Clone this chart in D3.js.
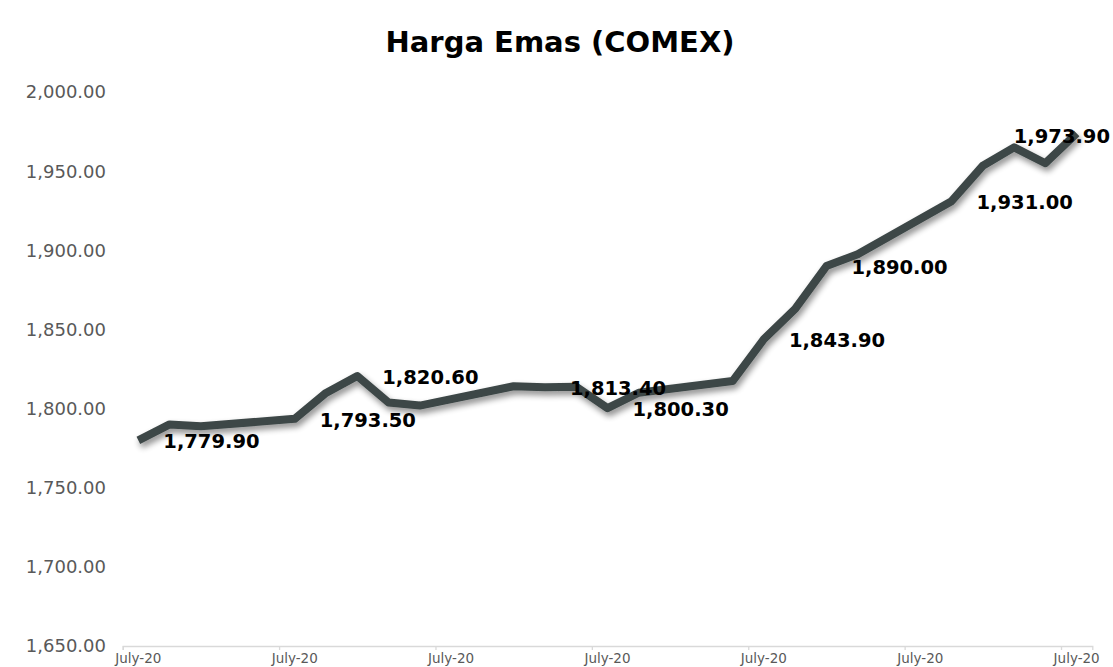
<!DOCTYPE html>
<html>
<head>
<meta charset="utf-8">
<script src="https://cdn.jsdelivr.net/npm/d3@7"></script>
<style>
  html, body { margin: 0; padding: 0; background: #fff; overflow: hidden; }
  svg { display: block; }
</style>
</head>
<body>
<svg id="chart" width="1113" height="667"></svg>
<script>
// ---- data (July 2020, trading days) ----
const days   = [1, 2, 3, 6, 7, 8, 9, 10, 13, 14, 15, 16, 17, 20, 21, 22, 23, 24, 27, 28, 29, 30, 31];
const prices = [1779.9, 1790.0, 1788.8, 1793.5, 1809.9, 1820.6, 1803.8, 1801.9, 1814.1, 1813.4, 1813.8,
                1800.3, 1810.0, 1817.4, 1843.9, 1863.0, 1890.0, 1897.5, 1931.0, 1953.4, 1965.0, 1955.0, 1973.9];
const labeledDays = [1, 6, 8, 14, 16, 21, 23, 27, 31];
const yTicks = [1650, 1700, 1750, 1800, 1850, 1900, 1950, 2000];
const xLabelDays = [1, 6, 11, 16, 21, 26, 31];
const xLabelText = "July-20";
const title = "Harga Emas (COMEX)";

const svg = d3.select("#chart");
const FONT = "'Century Gothic', 'DejaVu Sans', sans-serif";

const x = d3.scaleLinear().domain([0.5, 31.5]).range([122.7, 1092.3]);
const y = d3.scaleLinear().domain([1650, 2000]).range([646, 92]);

// defs: shadow
const defs = svg.append("defs");
const f = defs.append("filter").attr("id", "shadow").attr("x", "-10%").attr("y", "-30%").attr("width", "120%").attr("height", "160%");
f.append("feGaussianBlur").attr("in", "SourceAlpha").attr("stdDeviation", 3).attr("result", "blur");
f.append("feOffset").attr("in", "blur").attr("dx", 2).attr("dy", 4).attr("result", "off");
f.append("feComponentTransfer").attr("in", "off").attr("result", "sh")
  .append("feFuncA").attr("type", "linear").attr("slope", 0.45);
const m = f.append("feMerge");
m.append("feMergeNode").attr("in", "sh");
m.append("feMergeNode").attr("in", "SourceGraphic");

// title
svg.append("text")
  .attr("x", 560).attr("y", 52)
  .attr("text-anchor", "middle")
  .attr("font-family", FONT).attr("font-weight", "bold").attr("font-size", 29)
  .attr("fill", "#000").text(title);

// y axis labels
svg.append("g").selectAll("text").data(yTicks).join("text")
  .attr("x", 106).attr("y", d => y(d))
  .attr("dy", "0.36em")
  .attr("text-anchor", "end")
  .attr("font-family", FONT).attr("font-size", 18)
  .attr("fill", "#595959")
  .text(d => d3.format(",.2f")(d));

// x axis
const xAxis = d3.axisBottom(x)
  .tickValues(d3.range(0.5, 32, 5))
  .tickSize(4)
  .tickFormat("");
const gx = svg.append("g").attr("transform", `translate(0,${y(1650)})`).call(xAxis);
gx.select(".domain").attr("stroke", "#d9d9d9").attr("stroke-width", 1.3);
gx.selectAll(".tick line").attr("stroke", "#d9d9d9").attr("stroke-width", 1.3);

svg.append("g").selectAll("text").data(xLabelDays).join("text")
  .attr("x", d => Math.min(x(d), 1084)).attr("y", 663)
  .attr("text-anchor", "middle")
  .attr("font-family", FONT).attr("font-size", 13.5)
  .attr("fill", "#595959")
  .text(xLabelText);

// line
const pts = days.map((d, i) => ({ d, v: prices[i] }));
const line = d3.line().x(p => x(p.d)).y(p => y(p.v));
svg.append("path")
  .datum(pts)
  .attr("d", line)
  .attr("fill", "none")
  .attr("stroke", "#3d4747")
  .attr("stroke-width", 8)
  .attr("stroke-linejoin", "round")
  .attr("stroke-linecap", "butt")
  .attr("filter", "url(#shadow)");

// data labels
const lab = pts.filter(p => labeledDays.includes(p.d));
svg.append("g").selectAll("text").data(lab).join("text")
  .attr("x", p => p.d === 31 ? 1110 : x(p.d) + 25)
  .attr("y", p => y(p.v) + (p.d === 31 ? 3 : 1))
  .attr("dy", "0.36em")
  .attr("text-anchor", p => p.d === 31 ? "end" : "start")
  .attr("font-family", FONT).attr("font-weight", "bold").attr("font-size", 19.5)
  .attr("fill", "#000")
  .text(p => d3.format(",.2f")(p.v));
</script>
</body>
</html>
